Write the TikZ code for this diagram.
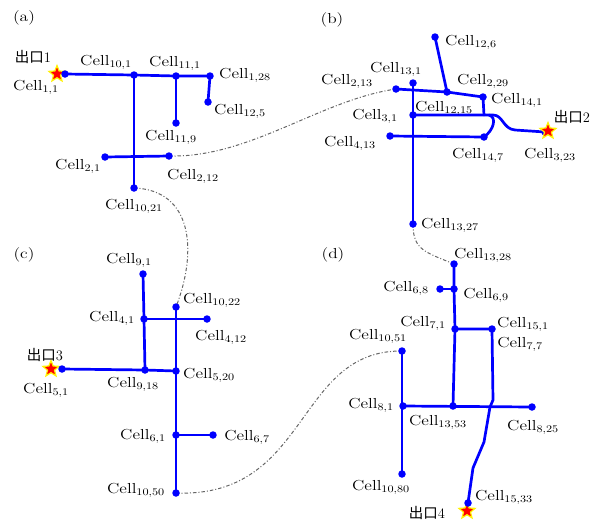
\documentclass[tikz,border=0pt]{standalone}
\usepackage{fontspec}
\newfontfamily\cjk{Noto Sans CJK SC}
\usetikzlibrary{shapes.geometric}
\newcommand\cel[1]{\scalebox{1.2}[1]{Cell\textsubscript{#1}}}
\newcommand\pan[1]{\scalebox{1.2}[1]{(#1)}}
\newcommand\exitt[1]{{\cjk 出口}#1}
\begin{document}
\begin{tikzpicture}[x=1pt,y=-1pt,
 lab/.style={inner sep=0pt, font=\fontsize{14.5}{16}\selectfont},
 road/.style={blue, line width=2.7pt, line join=round, line cap=round},
 link/.style={black!60, line width=1pt, dash pattern=on 3.5pt off 2pt on 1pt off 2pt},
 dot/.style={circle, fill=blue, inner sep=0pt, minimum size=7.5pt},
 exitstar/.style={star, star points=5, star point ratio=2.3, fill=red, draw=yellow, line width=1.2pt, inner sep=0pt, minimum size=17pt}]
\useasboundingbox (0,0) rectangle (598,520);
% ---------- (a) ----------
\coordinate (c11) at (65,74);
\coordinate (c101) at (134,75);
\coordinate (c111) at (176,76);
\coordinate (c128) at (210,76);
\coordinate (c125) at (208,102);
\coordinate (c119) at (176,123);
\coordinate (c21) at (105,157);
\coordinate (c212) at (169,156);
\coordinate (c1021) at (134,188);
% ---------- (b) ----------
\coordinate (c213) at (396,89);
\coordinate (c131) at (413,83);
\coordinate (c126) at (435,37);
\coordinate (c229) at (447,92);
\coordinate (c141) at (483,97);
\coordinate (c141b) at (484,115);
\coordinate (c31) at (413,115);
\coordinate (bk) at (493,115);
\coordinate (bk2) at (515,130);
\coordinate (c323) at (545,132);
\coordinate (c413) at (390,136);
\coordinate (c147) at (484,137);
\coordinate (c1327) at (413,224);
% ---------- (c) ----------
\coordinate (c91) at (143,274);
\coordinate (c1022) at (176,307);
\coordinate (c41) at (144,319);
\coordinate (c412) at (207,319);
\coordinate (c51) at (62,369);
\coordinate (c918) at (145,370);
\coordinate (c520) at (176,371);
\coordinate (c61) at (176,435);
\coordinate (c67) at (213,435);
\coordinate (c1050) at (176,493);
% ---------- (d) ----------
\coordinate (c1328) at (454,264);
\coordinate (c68) at (440,289);
\coordinate (c69) at (454,289);
\coordinate (c71) at (455,329);
\coordinate (c151) at (492,329);
\coordinate (c1051) at (402,351);
\coordinate (c81) at (403,406);
\coordinate (c1353) at (453,406);
\coordinate (c825) at (532,407);
\coordinate (c1080) at (402,474);
\coordinate (d1) at (493,400);
\coordinate (d2) at (490,407);
\coordinate (d3) at (484,442);
\coordinate (d4) at (473,468);
\coordinate (c1533) at (468,503);

% dash-dot links
\draw[link] (c212) .. controls (250,158) and (320,100) .. (c213);
\draw[link] (c1021) .. controls (192,190) and (198,250) .. (c1022);
\draw[link] (c1327) .. controls (413,250) and (425,252) .. (c1328);
\draw[link] (c1050) .. controls (310,498) and (295,350) .. (c1051);

% roads (a)
\draw[road] (c11) -- (c101) -- (c111) -- (c128) -- (c125);
\draw[road] (c111) -- (c119);
\draw[road] (c101) -- (c1021);
\draw[road] (c21) -- (c212);
% roads (b)
\draw[road] (c213) -- (c229) -- (c141) -- (c141b);
\draw[road] (c126) -- (c229);
\draw[road] (c131) -- (c1327);
\draw[road] (c31) -- (bk) .. controls (503,115) and (503,129) .. (bk2) -- (c323);
\draw[road] (489,115) .. controls (497,117) and (494,130) .. (c147);
\draw[road] (c413) -- (c147);
% roads (c)
\draw[road] (c91) -- (c41) -- (c918);
\draw[road] (c41) -- (c412);
\draw[road] (c51) -- (c918) -- (c520);
\draw[road] (c1022) -- (c520) -- (c61) -- (c1050);
\draw[road] (c61) -- (c67);
% roads (d)
\draw[road] (c1328) -- (c69) -- (c71) -- (c1353);
\draw[road] (c68) -- (c69);
\draw[road] (c71) -- (c151) -- (d1) -- (d2) -- (d3) -- (d4) -- (c1533);
\draw[road] (c81) -- (c825);
\draw[road] (c1051) -- (c1080);

% exits (stars)
\node[exitstar] (s1) at (57,74) {};
\node[exitstar] (s3) at (51,369) {};
\node[exitstar] (s4) at (467,511) {};

% dots
\foreach \p in {c11,c101,c111,c128,c125,c119,c21,c212,c1021,
  c213,c131,c126,c229,c141,c31,c323,c413,c147,c1327,
  c91,c1022,c41,c412,c51,c918,c520,c61,c67,c1050,
  c1328,c68,c69,c71,c151,c1051,c81,c1353,c825,c1080,c1533}
  \node[dot] (d\p) at (\p) {};
\node[exitstar] (s2) at (548,131) {};

% panel labels
\node[lab] (pa) at (24,18) {\pan{a}};
\node[lab] (pb) at (332,20) {\pan{b}};
\node[lab] (pc) at (24,255) {\pan{c}};
\node[lab] (pd) at (333,255) {\pan{d}};

% exit labels
\node[lab] (e1) at (33,57) {\exitt{1}};
\node[lab] (e2) at (572,117) {\exitt{2}};
\node[lab] (e3) at (45,355) {\exitt{3}};
\node[lab] (e4) at (427,513) {\exitt{4}};

% cell labels (a)
\node[lab] (l11) at (36,87) {\cel{1,1}};
\node[lab] (l101) at (106,62) {\cel{10,1}};
\node[lab] (l111) at (175,63) {\cel{11,1}};
\node[lab] (l128) at (245,75) {\cel{1,28}};
\node[lab] (l125) at (240,111) {\cel{12,5}};
\node[lab] (l119) at (171,137) {\cel{11,9}};
\node[lab] (l21) at (78,166) {\cel{2,1}};
\node[lab] (l212) at (193,176) {\cel{2,12}};
\node[lab] (l1021) at (134,206) {\cel{10,21}};
% (b)
\node[lab] (l126) at (471,42) {\cel{12,6}};
\node[lab] (l131) at (396,69) {\cel{13,1}};
\node[lab] (l213) at (347,81) {\cel{2,13}};
\node[lab] (l229) at (483,81) {\cel{2,29}};
\node[lab] (l141) at (517,100) {\cel{14,1}};
\node[lab] (l1215) at (444,108) {\cel{12,15}};
\node[lab] (l31) at (375,116) {\cel{3,1}};
\node[lab] (l413) at (350,143) {\cel{4,13}};
\node[lab] (l147) at (478,155) {\cel{14,7}};
\node[lab] (l323) at (550,155) {\cel{3,23}};
\node[lab] (l1327) at (450,225) {\cel{13,27}};
% (c)
\node[lab] (l91) at (129,260) {\cel{9,1}};
\node[lab] (l1022) at (212,300) {\cel{10,22}};
\node[lab] (l41) at (112,318) {\cel{4,1}};
\node[lab] (l412) at (221,337) {\cel{4,12}};
\node[lab] (l918) at (133,384) {\cel{9,18}};
\node[lab] (l520) at (209,375) {\cel{5,20}};
\node[lab] (l51) at (46,390) {\cel{5,1}};
\node[lab] (l61) at (143,436) {\cel{6,1}};
\node[lab] (l67) at (247,437) {\cel{6,7}};
\node[lab] (l1050) at (136,490) {\cel{10,50}};
% (d)
\node[lab] (l1328) at (483,255) {\cel{13,28}};
\node[lab] (l68) at (406,288) {\cel{6,8}};
\node[lab] (l69) at (486,295) {\cel{6,9}};
\node[lab] (l71) at (423,323) {\cel{7,1}};
\node[lab] (l151) at (523,324) {\cel{15,1}};
\node[lab] (l77) at (520,344) {\cel{7,7}};
\node[lab] (l1051) at (378,336) {\cel{10,51}};
\node[lab] (l81) at (371,405) {\cel{8,1}};
\node[lab] (l1353) at (438,422) {\cel{13,53}};
\node[lab] (l825) at (533,427) {\cel{8,25}};
\node[lab] (l1080) at (381,487) {\cel{10,80}};
\node[lab] (l1533) at (504,497) {\cel{15,33}};
\end{tikzpicture}
\end{document}
